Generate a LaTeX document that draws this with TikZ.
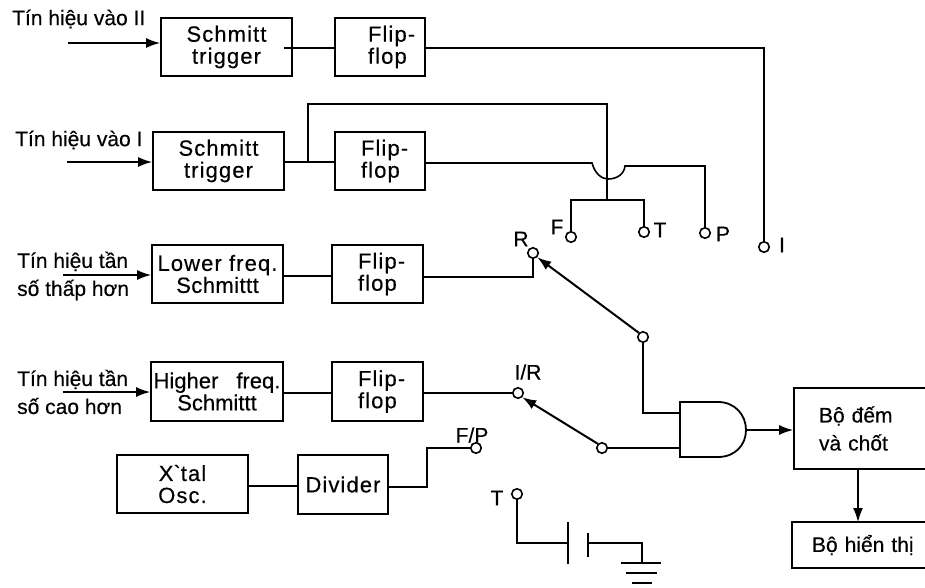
\documentclass[tikz,border=0pt]{standalone}
\usepackage{fontspec}
\setmainfont{Liberation Sans}[FakeBold=0.35]
\usetikzlibrary{arrows.meta,calc}
\tikzset{
  wire/.style={line width=1.6pt,line join=miter},
  arr/.style={wire,-{Latex[length=14pt,width=10pt]}},
  blk/.style={draw,line width=1.7pt,inner sep=0pt,align=center,font=\fontsize{22}{22}\selectfont\addfontfeature{LetterSpace=5}},
  flipbox/.style={blk,align=left,minimum width=90pt,minimum height=58pt,text width=90pt},
  term/.style={draw,circle,line width=1.6pt,inner sep=0pt,minimum size=10.5pt,fill=white},
  lab/.style={inner sep=0pt,align=left,font=\fontsize{21}{28}\selectfont,anchor=west},
  pin/.style={inner sep=0pt,font=\fontsize{21}{22}\selectfont},
}
\begin{document}
\begin{tikzpicture}[x=1pt,y=-1pt]
\useasboundingbox (0,0) rectangle (925,588);
\clip (0,0) rectangle (925,588);
% blocks
\node[blk,minimum width=131pt,minimum height=58pt] (s2) at (226.5,47) {Schmitt\\trigger};
\node[flipbox] (f2) at (380,47) {\hspace*{33pt}Flip-\\\hspace*{33pt}flop};
\node[blk,minimum width=131pt,minimum height=58pt] (s1) at (218.5,161) {Schmitt\\trigger};
\node[flipbox] (f1) at (380,161) {\hspace*{26pt}Flip-\\\hspace*{26pt}flop};
\node[blk,minimum width=131pt,minimum height=58pt] (low) at (217.5,274) {Lower freq.\\{\addfontfeature{LetterSpace=2}Schmittt}};
\node[flipbox,minimum width=91pt,text width=91pt] (f3) at (377.5,274) {\hspace*{26pt}Flip-\\\hspace*{26pt}flop};
\node[blk,minimum width=132pt,minimum height=59pt,font=\fontsize{22}{22}\selectfont] (high) at (217,391.5) {Higher\hspace{18pt}freq.\\Schmittt};
\node[flipbox,minimum width=91pt,text width=91pt,minimum height=59pt] (f4) at (377.5,391.5) {\hspace*{26pt}Flip-\\\hspace*{26pt}flop};
\node[blk,minimum width=131pt,minimum height=58pt] (xtal) at (182.5,484) {X\textasciigrave tal\\Osc.};
\node[blk,minimum width=90pt,minimum height=59pt] (div) at (343,484.5) {Divider};
\node[blk,minimum width=145pt,minimum height=81pt,text width=145pt,align=left,font=\fontsize{21}{28}\selectfont] (cnt) at (866.5,428.5) {\hspace*{25pt}Bộ đếm\\\hspace*{25pt}và chốt};
\node[blk,minimum width=146pt,minimum height=46pt,font=\fontsize{21}{22}\selectfont,text width=146pt,align=left] (disp) at (865,545) {\hspace*{20pt}Bộ hiển thị};
% left labels
\node[lab] (l2) at (12,19) {Tín hiệu vào II};
\node[lab] (l1) at (15,140) {Tín hiệu vào I};
\node[lab] (l3) at (17,276) {Tín hiệu tần\\số thấp hơn};
\node[lab] (l4) at (17,392) {Tín hiệu tần\\số cao hơn};
% input arrows
\coordinate (i2) at (68,43);
\coordinate (i1) at (67,162);
\coordinate (i3) at (63,275);
\coordinate (i4) at (63,392);
\draw[arr] (i2) -- (s2.west |- i2);
\draw[arr] (i1) -- (s1.west |- i1);
\draw[arr] (i3) -- (low.west |- i3);
\draw[arr] (i4) -- (high.west |- i4);
% terminals
\node[term] (tF) at (571,237) {};
\node[term] (tT) at (644,232) {};
\node[term] (tP) at (705,233) {};
\node[term] (tI) at (764,247) {};
\node[term] (tR) at (533,253) {};
\node[term] (tIR) at (518,393) {};
\node[term] (tFP) at (476,448) {};
\node[term] (tT2) at (517,494) {};
\node[term] (swa) at (643,337) {};
\node[term] (swb) at (602,448) {};
% pin labels
\node[pin] (lF) at (557,227) {F};
\node[pin] (lT) at (660,230) {T};
\node[pin] (lP) at (723,234) {P};
\node[pin] (lI) at (782,245) {I};
\node[pin] (lR) at (521,239) {R};
\node[pin] (lIR) at (528,372) {I/R};
\node[pin] (lFP) at (472,435) {F/P};
\node[pin] (lT2) at (497,498) {T};
% block to block
\coordinate (w2) at (284,48);
\draw[wire] (w2) -- (w2 -| f2.west);
\coordinate (w1) at (308,162);
\draw[wire] (s1.east |- w1) -- (w1) -- (w1 -| f1.west);
\draw[wire] (low.east |- 0,276) -- (f3.west |- 0,276);
\draw[wire] (high.east |- 0,393) -- (f4.west |- 0,393);
\draw[wire] (xtal.east |- 0,486) -- (div.west |- 0,486);
% outputs
\draw[wire] (f2.east |- w2) -| (tI.north);
\coordinate (top) at (607,104);
\coordinate (fork) at (607,200);
\draw[wire] (w1) |- (top) -- (fork);
\draw[wire] (tF.north) |- (fork) -| (tT.north);
\coordinate (ba) at (592,163);
\coordinate (bb) at (625,166);
\draw[wire] (f1.east |- ba) -- (ba) .. controls (595,174) and (602,179) .. (608,179) .. controls (616,179) and (624,175) .. (bb) -| (tP.north);
\draw[wire] (f3.east |- 0,277) -- (tR.south |- 0,277) -- (tR.south);
\draw[wire] (f4.east |- tIR) -- (tIR.west);
\coordinate (dn) at (427,487);
\draw[wire] (div.east |- dn) -- (dn) |- (tFP.west);
% AND gate
\coordinate (ga) at (680,402);
\coordinate (gb) at (680,457);
\coordinate (gin1) at (680,413);
\coordinate (gin2) at (680,448);
\coordinate (gout) at (746,430);
\draw[line width=1.8pt,line join=miter] (ga) -- (718,402) .. controls (735,402) and (746,415) .. (gout) .. controls (746,445) and (735,457) .. (718,457) -- (gb) -- cycle;
\draw[wire] (swa.south) |- (gin1);
\draw[wire] (swb.east) -- (gin2);
\draw[arr] (gout) -- (gout -| cnt.west);
\draw[arr] (858,469) -- (858,522);
% switch arms
\draw[arr,line width=2pt] (swa.north west) -- (tR.south east);
\draw[arr,line width=2pt] (swb.north west) -- (tIR.south east);
% battery and ground
\coordinate (p1) at (568,543);
\coordinate (p2) at (588,543);
\coordinate (gnd) at (642,563);
\draw[wire] (tT2.south) |- (p1);
\draw[line width=1.8pt] (568,522) -- (568,564);
\draw[line width=2.4pt] (588,533) -- (588,557);
\draw[wire] (p2) -| (gnd);
\draw[wire] (621,563) -- (661,563);
\draw[wire] (626,573) -- (657,573);
\draw[wire] (632,583) -- (652,583);
\end{tikzpicture}
\end{document}
